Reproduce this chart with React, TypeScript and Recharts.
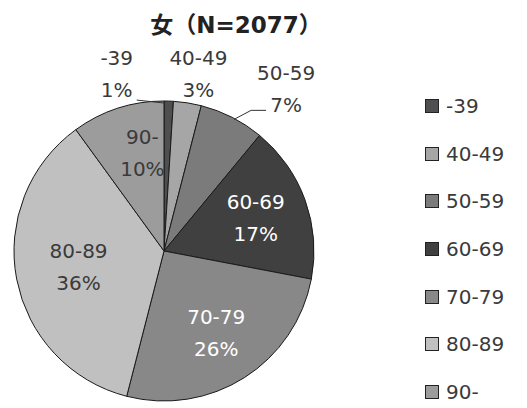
import { PieChart, Pie, Cell, Legend } from "recharts";

const ageGroups = ["-39", "40-49", "50-59", "60-69", "70-79", "80-89", "90-"];
const sharePercent = [1, 3, 7, 17, 26, 36, 10];
const sliceColors = ["#4f4f4f", "#a6a6a6", "#7b7b7b", "#404040", "#888888", "#c0c0c0", "#9c9c9c"];
const labelColors = ["#3a3a3a", "#3a3a3a", "#3a3a3a", "#ffffff", "#ffffff", "#3a3a3a", "#3a3a3a"];
const chartTitle = "女（N=2077）";

const data = ageGroups.map((name, i) => ({ name, value: sharePercent[i] }));

const FONT = "'DejaVu Sans', 'Noto Sans CJK JP', sans-serif";
const RAD = Math.PI / 180;

// label placement: inside slices sit on a radius fraction, small slices go outside with a leader
const labelLayout: Record<string, { r?: number; dx: number; dy: number; line?: number[][] }> = {
  "-39": { dx: -52, dy: -27, line: [[-4, 2], [-32, -1]] },
  "40-49": { dx: 11, dy: -29 },
  "50-59": { dx: 54, dy: -28, line: [[2, 2], [19, -7], [34, -7]] },
  "60-69": { r: 0.65, dx: 0, dy: 0 },
  "70-79": { r: 0.65, dx: 0, dy: 0 },
  "80-89": { r: 0.58, dx: 0, dy: 0 },
  "90-": { r: 0.66, dx: 9, dy: -4 },
};

function renderLabel(props: any) {
  const { cx, cy, midAngle, outerRadius, index } = props;
  const name = ageGroups[index];
  const lay = labelLayout[name];
  const cos = Math.cos(-midAngle * RAD);
  const sin = Math.sin(-midAngle * RAD);
  let x: number;
  let y: number;
  let path: string | null = null;
  if (lay.r) {
    x = cx + outerRadius * lay.r * cos + lay.dx;
    y = cy + outerRadius * lay.r * sin + lay.dy;
  } else {
    const ax = cx + outerRadius * cos;
    const ay = cy + outerRadius * sin;
    x = ax + lay.dx;
    y = ay + lay.dy;
    if (lay.line) {
      path = lay.line.map((p, k) => `${k === 0 ? "M" : "L"}${ax + p[0]},${ay + p[1]}`).join(" ");
    }
  }
  return (
    <g key={`lbl-${index}`}>
      {path && <path d={path} stroke="#333" strokeWidth={1} fill="none" />}
      <text
        x={x}
        y={y - 16}
        textAnchor="middle"
        dominantBaseline="central"
        fill={labelColors[index]}
        fontSize={20}
        fontFamily={FONT}
      >
        {name}
      </text>
      <text
        x={x}
        y={y + 16}
        textAnchor="middle"
        dominantBaseline="central"
        fill={labelColors[index]}
        fontSize={20}
        fontFamily={FONT}
      >
        {`${sharePercent[index]}%`}
      </text>
    </g>
  );
}

function LegendList() {
  return (
    <div style={{ fontFamily: FONT, fontSize: 20, color: "#3a3a3a" }}>
      {ageGroups.map((name, i) => (
        <div key={name} style={{ display: "flex", alignItems: "center", height: 47.7 }}>
          <span
            style={{
              display: "inline-block",
              width: 12,
              height: 12,
              background: sliceColors[i],
              border: "1px solid #222",
              marginRight: 7,
            }}
          />
          <span>{name}</span>
        </div>
      ))}
    </div>
  );
}

export default function App() {
  return (
    <div style={{ position: "absolute", left: 0, top: 0, width: 527, height: 408, background: "#fff" }}>
      <PieChart width={527} height={408} margin={{ top: 0, right: 0, bottom: 0, left: 0 }}>
        <text
          x={236}
          y={25}
          textAnchor="middle"
          dominantBaseline="central"
          fontSize={23}
          fontWeight="bold"
          fill="#222"
          fontFamily={FONT}
        >
          {chartTitle}
        </text>
        <Pie
          data={data}
          dataKey="value"
          nameKey="name"
          cx={164}
          cy={251}
          outerRadius={150}
          startAngle={90}
          endAngle={-270}
          stroke="#1a1a1a"
          strokeWidth={1}
          label={renderLabel}
          labelLine={false}
          isAnimationActive={false}
        >
          {data.map((d, i) => (
            <Cell key={d.name} fill={sliceColors[i]} />
          ))}
        </Pie>
        <Legend
          layout="vertical"
          align="right"
          verticalAlign="top"
          content={<LegendList />}
          wrapperStyle={{ left: 425, top: 82, width: 100 }}
        />
      </PieChart>
    </div>
  );
}
